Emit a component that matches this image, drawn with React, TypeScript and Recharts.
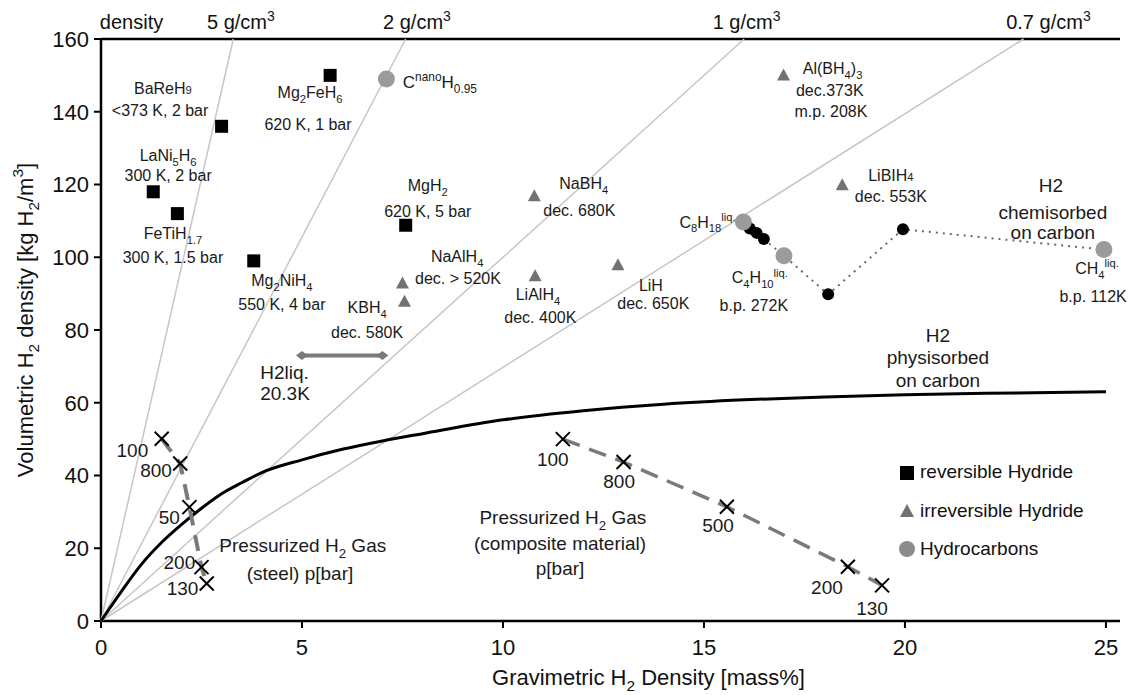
import React from "react"
import { ComposedChart, Scatter, XAxis, YAxis, Legend } from "recharts"

const FONT = '"Liberation Sans", Arial, Helvetica, sans-serif'

// grey density guide lines: x (mass%) where each reaches 160 kg/m3
const densityTopX = [3.29, 7.58, 16.0, 22.95]
const densityLabels = ["density", "5 g/cm^{3}", "2 g/cm^{3}", "1 g/cm^{3}", "0.7 g/cm^{3}"]
const densityLabelX = [0.76, 3.48, 7.86, 16.06, 23.57]

const xTicks = [0, 5, 10, 15, 20, 25]
const yTicks = [0, 20, 40, 60, 80, 100, 120, 140, 160]

// reversible hydrides (black squares)
const reversible = [
    { x: 3.0, y: 136 }, // BaReH9
    { x: 5.7, y: 150 }, // Mg2FeH6
    { x: 1.3, y: 118 }, // LaNi5H6
    { x: 1.9, y: 112 }, // FeTiH1.7
    { x: 3.8, y: 99 }, // Mg2NiH4
    { x: 7.58, y: 108.8 }, // MgH2
]

// irreversible hydrides (grey triangles)
const irreversible = [
    { x: 16.98, y: 150 }, // Al(BH4)3
    { x: 10.78, y: 116.8 }, // NaBH4
    { x: 18.44, y: 119.8 }, // LiBlH4
    { x: 7.5, y: 92.8 }, // NaAlH4
    { x: 7.55, y: 87.8 }, // KBH4
    { x: 10.8, y: 94.8 }, // LiAlH4
    { x: 12.86, y: 97.8 }, // LiH
]

// hydrocarbons (grey circles)
const hydrocarbons = [
    { x: 7.1, y: 149 }, // C nano H0.95
    { x: 15.98, y: 109.7 }, // C8H18
    { x: 16.99, y: 100.4 }, // C4H10
    { x: 24.95, y: 102.1 }, // CH4
]

// H2 chemisorbed on carbon (black dots, dotted path)
const chemDots = [
    { x: 16.14, y: 107.9 },
    { x: 16.31, y: 106.7 },
    { x: 16.49, y: 105 },
    { x: 18.09, y: 89.8 },
    { x: 19.95, y: 107.7 },
]
const chemPath = [
    { x: 16.49, y: 105 },
    { x: 16.99, y: 100.4 },
    { x: 18.09, y: 89.8 },
    { x: 19.95, y: 107.7 },
    { x: 24.95, y: 102.1 },
]

// H2 physisorbed on carbon
const physX = [0, 0.5, 1, 1.5, 2, 2.5, 3, 3.5, 4, 5, 6, 7, 8, 10, 12, 14, 16, 18, 20, 22, 25]
const physY = [0, 8, 15.5, 21.5, 26.5, 31, 35, 38, 40.8, 44.3, 47.2, 49.5, 51.5, 55.3, 57.8, 59.6, 60.8, 61.6, 62.2, 62.6, 63]

// liquid hydrogen
const h2liq = [
    { x: 5, y: 73 },
    { x: 7, y: 73 },
]

// pressurized gas, steel tank
const steelP = ["100", "800", "50", "200", "130"]
const steelX = [1.51, 1.97, 2.2, 2.5, 2.63]
const steelY = [50.1, 43.3, 31.3, 14.8, 10.3]
const steelLabelX = [0.78, 1.37, 1.7, 1.95, 2.03]
const steelLabelY = [46.9, 41.4, 28.6, 16.2, 8.9]

// pressurized gas, composite tank
const compP = ["100", "800", "500", "200", "130"]
const compX = [11.49, 13.0, 15.57, 18.58, 19.43]
const compY = [50.0, 43.7, 31.4, 14.9, 9.8]
const compLabelX = [11.24, 12.89, 15.35, 18.06, 19.18]
const compLabelY = [44.4, 38.4, 26.3, 9.3, 3.5]

const notes = [
    { text: "BaReH~{9}", x: 1.54, y: 146.4 },
    { text: "<373 K, 2 bar", x: 1.47, y: 140.4 },
    { text: "Mg_{2}FeH_{6}", x: 5.2, y: 145.3 },
    { text: "620 K, 1 bar", x: 5.15, y: 136.4 },
    { text: "LaNi_{5}H_{6}", x: 1.67, y: 128 },
    { text: "300 K, 2 bar", x: 1.67, y: 122.6 },
    { text: "FeTiH_{1.7}", x: 1.79, y: 106.6 },
    { text: "300 K, 1.5 bar", x: 1.79, y: 100 },
    { text: "Mg_{2}NiH_{4}", x: 4.5, y: 93.7 },
    { text: "550 K, 4 bar", x: 4.5, y: 87 },
    { text: "KBH_{4}", x: 6.62, y: 86.2 },
    { text: "dec. 580K", x: 6.62, y: 79.4 },
    { text: "MgH_{2}", x: 8.13, y: 119.7 },
    { text: "620 K, 5 bar", x: 8.13, y: 112.7 },
    { text: "NaAlH_{4}", x: 8.86, y: 100.3 },
    { text: "dec. > 520K", x: 8.88, y: 94.2 },
    { text: "NaBH_{4}", x: 12.01, y: 120.3 },
    { text: "dec. 680K", x: 11.9, y: 112.9 },
    { text: "LiAlH_{4}", x: 10.87, y: 89.8 },
    { text: "dec. 400K", x: 10.93, y: 83.6 },
    { text: "LiH", x: 13.68, y: 92.3 },
    { text: "dec. 650K", x: 13.74, y: 87.3 },
    { text: "C_{8}H_{18}^{liq.}", x: 15.09, y: 109.7 },
    { text: "C_{4}H_{10}^{liq.}", x: 16.39, y: 94.4 },
    { text: "b.p. 272K", x: 16.24, y: 86.8 },
    { text: "Al(BH_{4})_{3}", x: 18.2, y: 151.9 },
    { text: "dec.373K", x: 18.13, y: 145.9 },
    { text: "m.p. 208K", x: 18.16, y: 140.2 },
    { text: "LiBIH~{4}", x: 19.65, y: 122.5 },
    { text: "dec. 553K", x: 19.65, y: 116.6 },
    { text: "CH_{4}^{liq.}", x: 24.78, y: 96.9 },
    { text: "b.p. 112K", x: 24.68, y: 89.1 },
    { text: "C^{nano}H_{0.95}", x: 8.43, y: 148.1, size: 17 },
]

const bigNotes = [
    { text: "H2", x: 23.63, y: 119.8 },
    { text: "chemisorbed", x: 23.68, y: 112.4 },
    { text: "on carbon", x: 23.68, y: 106.9 },
    { text: "H2", x: 20.82, y: 78.5 },
    { text: "physisorbed", x: 20.82, y: 72.5 },
    { text: "on carbon", x: 20.82, y: 66.2 },
    { text: "H2liq.", x: 3.96, y: 68.4, anchor: "start" },
    { text: "20.3K", x: 3.96, y: 62.6, anchor: "start" },
    { text: "Pressurized H_{2} Gas", x: 5.02, y: 20.8 },
    { text: "(steel) p[bar]", x: 4.95, y: 13.1 },
    { text: "Pressurized H_{2} Gas", x: 11.49, y: 28.5 },
    { text: "(composite material)", x: 11.42, y: 21.4 },
    { text: "p[bar]", x: 11.42, y: 14.5 },
]

const legendItems = [
    { name: "reversible Hydride", kind: "square" },
    { name: "irreversible Hydride", kind: "triangle" },
    { name: "Hydrocarbons", kind: "circle" },
]

const physData = physX.map((x, i) => ({ x, y: physY[i] }))
const steelData = steelX.map((x, i) => ({ x, y: steelY[i] }))
const compData = compX.map((x, i) => ({ x, y: compY[i] }))
const pressureNotes = [
    ...steelP.map((t, i) => ({ text: t, x: steelLabelX[i], y: steelLabelY[i] })),
    ...compP.map((t, i) => ({ text: t, x: compLabelX[i], y: compLabelY[i] })),
]

function parts(s: string) {
    const out: { t: string; k: string }[] = []
    const re = /([_^~])\{([^}]*)\}|([^_^~]+)/g
    let m
    while ((m = re.exec(s))) {
        if (m[3]) out.push({ t: m[3], k: "n" })
        else out.push({ t: m[2], k: m[1] })
    }
    return out
}

// text with _{sub}, ^{sup} and ~{small}; y is the vertical centre
function Rich({ x, y, text, size = 16, anchor = "middle", fill = "#1a1a1a", transform }: any) {
    let shift = 0
    const spans = parts(text).map((p, i) => {
        const target = p.k === "_" ? size * 0.3 : p.k === "^" ? -size * 0.42 : 0
        const dy = target - shift
        shift = target
        return (
            <tspan key={i} dy={dy} fontSize={p.k === "n" ? size : size * 0.7}>
                {p.t}
            </tspan>
        )
    })
    return (
        <text
            x={x}
            y={y + size * 0.35}
            textAnchor={anchor}
            fontSize={size}
            fill={fill}
            fontFamily={FONT}
            transform={transform}
        >
            {spans}
        </text>
    )
}

const none = () => <g />

const square = ({ cx, cy }: any) => <rect x={cx - 6.5} y={cy - 6.5} width={13} height={13} fill="#000" />
const triangle = ({ cx, cy }: any) => (
    <polygon points={`${cx},${cy - 7} ${cx + 6.5},${cy + 5} ${cx - 6.5},${cy + 5}`} fill="#727272" />
)
const greyCircle = ({ cx, cy }: any) => <circle cx={cx} cy={cy} r={8.5} fill="#9b9b9b" />
const blackDot = ({ cx, cy }: any) => <circle cx={cx} cy={cy} r={6} fill="#000" />
const cross = ({ cx, cy }: any) => (
    <g stroke="#000" strokeWidth={2}>
        <line x1={cx - 7} y1={cy - 7} x2={cx + 7} y2={cy + 7} />
        <line x1={cx - 7} y1={cy + 7} x2={cx + 7} y2={cy - 7} />
    </g>
)
const diamond = ({ cx, cy }: any) => (
    <polygon points={`${cx - 6},${cy} ${cx},${cy - 4.5} ${cx + 6},${cy} ${cx},${cy + 4.5}`} fill="#7a7a7a" />
)
const noteShape = (size: number) => (p: any) => (
    <Rich x={p.cx} y={p.cy} text={p.payload.text} size={p.payload.size ?? size} anchor={p.payload.anchor ?? "middle"} />
)

const topTick = (p: any) => {
    let i = densityLabelX.indexOf(p.payload.value)
    if (i < 0) i = p.index
    return <Rich x={p.x} y={p.y} text={densityLabels[i] ?? ""} size={20} fill="#111" />
}

const xLabel = (p: any) => {
    const vb = p.viewBox
    return <Rich x={vb.x + vb.width / 2 + 38} y={vb.y + 56} text="Gravimetric H_{2} Density [mass%]" size={22} fill="#111" />
}

const yLabel = (p: any) => {
    const vb = p.viewBox
    const cx = vb.x + 25
    const cy = vb.y + vb.height / 2 - 10
    return (
        <Rich
            x={cx}
            y={cy}
            text="Volumetric H_{2} density [kg H_{2}/m^{3}]"
            size={22}
            fill="#111"
            transform={`rotate(-90 ${cx} ${cy})`}
        />
    )
}

function LegendBox() {
    return (
        <div style={{ fontFamily: FONT, fontSize: 19, color: "#111" }}>
            {legendItems.map((it) => (
                <div key={it.name} style={{ display: "flex", alignItems: "center", height: 38.5 }}>
                    <svg width={16} height={18}>
                        {it.kind === "square" ? <rect x={1} y={3} width={14} height={14} fill="#000" /> : null}
                        {it.kind === "triangle" ? <polygon points="8,2 15,15 1,15" fill="#727272" /> : null}
                        {it.kind === "circle" ? <circle cx={8} cy={9} r={8} fill="#8c8c8c" /> : null}
                    </svg>
                    <span style={{ marginLeft: 5 }}>{it.name}</span>
                </div>
            ))}
        </div>
    )
}

export default function App() {
    return (
        <div style={{ position: "absolute", left: 0, top: 0, background: "#fff", fontFamily: FONT }}>
            <ComposedChart width={1141} height={695} margin={{ top: 0, right: 21, bottom: 0, left: 0 }}>
                <XAxis
                    type="number"
                    dataKey="x"
                    domain={[0, 25.35]}
                    ticks={xTicks}
                    interval={0}
                    height={74}
                    axisLine={{ stroke: "#000", strokeWidth: 2.5 }}
                    tickLine={{ stroke: "#000", strokeWidth: 2 }}
                    tickSize={7}
                    tickMargin={11}
                    tick={{ fill: "#111", fontSize: 22 }}
                    label={xLabel}
                />
                <XAxis
                    xAxisId="top"
                    orientation="top"
                    type="number"
                    dataKey="x"
                    domain={[0, 25.35]}
                    ticks={densityLabelX}
                    interval={0}
                    height={39}
                    axisLine={{ stroke: "#000", strokeWidth: 2.5 }}
                    tickLine={false}
                    tickSize={0}
                    tickMargin={17}
                    tick={topTick}
                />
                <YAxis
                    type="number"
                    dataKey="y"
                    domain={[0, 160]}
                    ticks={yTicks}
                    interval={0}
                    width={101}
                    axisLine={{ stroke: "#000", strokeWidth: 2.5 }}
                    tickLine={{ stroke: "#000", strokeWidth: 2 }}
                    tickSize={7}
                    tickMargin={5}
                    tick={{ fill: "#111", fontSize: 22 }}
                    label={yLabel}
                />

                {densityTopX.map((t) => (
                    <Scatter
                        key={t}
                        xAxisId="top"
                        data={[
                            { x: 0, y: 0 },
                            { x: t, y: 160 },
                        ]}
                        line={{ stroke: "#c6c6c6", strokeWidth: 1.5 }}
                        shape={none}
                        isAnimationActive={false}
                    />
                ))}

                <Scatter
                    data={physData}
                    line={{ stroke: "#000", strokeWidth: 3 }}
                    lineJointType="monotoneX"
                    shape={none}
                    isAnimationActive={false}
                />
                <Scatter
                    data={steelData}
                    line={{ stroke: "#7a7a7a", strokeWidth: 4, strokeDasharray: "16 10" }}
                    shape={cross}
                    isAnimationActive={false}
                />
                <Scatter
                    data={compData}
                    line={{ stroke: "#7a7a7a", strokeWidth: 3.5, strokeDasharray: "18 10" }}
                    shape={cross}
                    isAnimationActive={false}
                />
                <Scatter
                    data={h2liq}
                    line={{ stroke: "#7a7a7a", strokeWidth: 4 }}
                    shape={diamond}
                    isAnimationActive={false}
                />
                <Scatter
                    data={chemPath}
                    line={{ stroke: "#6a6a6a", strokeWidth: 2, strokeDasharray: "2 5" }}
                    shape={none}
                    isAnimationActive={false}
                />
                <Scatter data={chemDots} shape={blackDot} isAnimationActive={false} />
                <Scatter data={reversible} shape={square} isAnimationActive={false} />
                <Scatter data={irreversible} shape={triangle} isAnimationActive={false} />
                <Scatter data={hydrocarbons} shape={greyCircle} isAnimationActive={false} />

                <Scatter data={notes} shape={noteShape(16)} isAnimationActive={false} />
                <Scatter data={bigNotes} shape={noteShape(19)} isAnimationActive={false} />
                <Scatter data={pressureNotes} shape={noteShape(19)} isAnimationActive={false} />

                <Legend
                    layout="vertical"
                    align="center"
                    verticalAlign="middle"
                    wrapperStyle={{ left: 899, top: 453, width: 230 }}
                    content={LegendBox}
                />
            </ComposedChart>
        </div>
    )
}
